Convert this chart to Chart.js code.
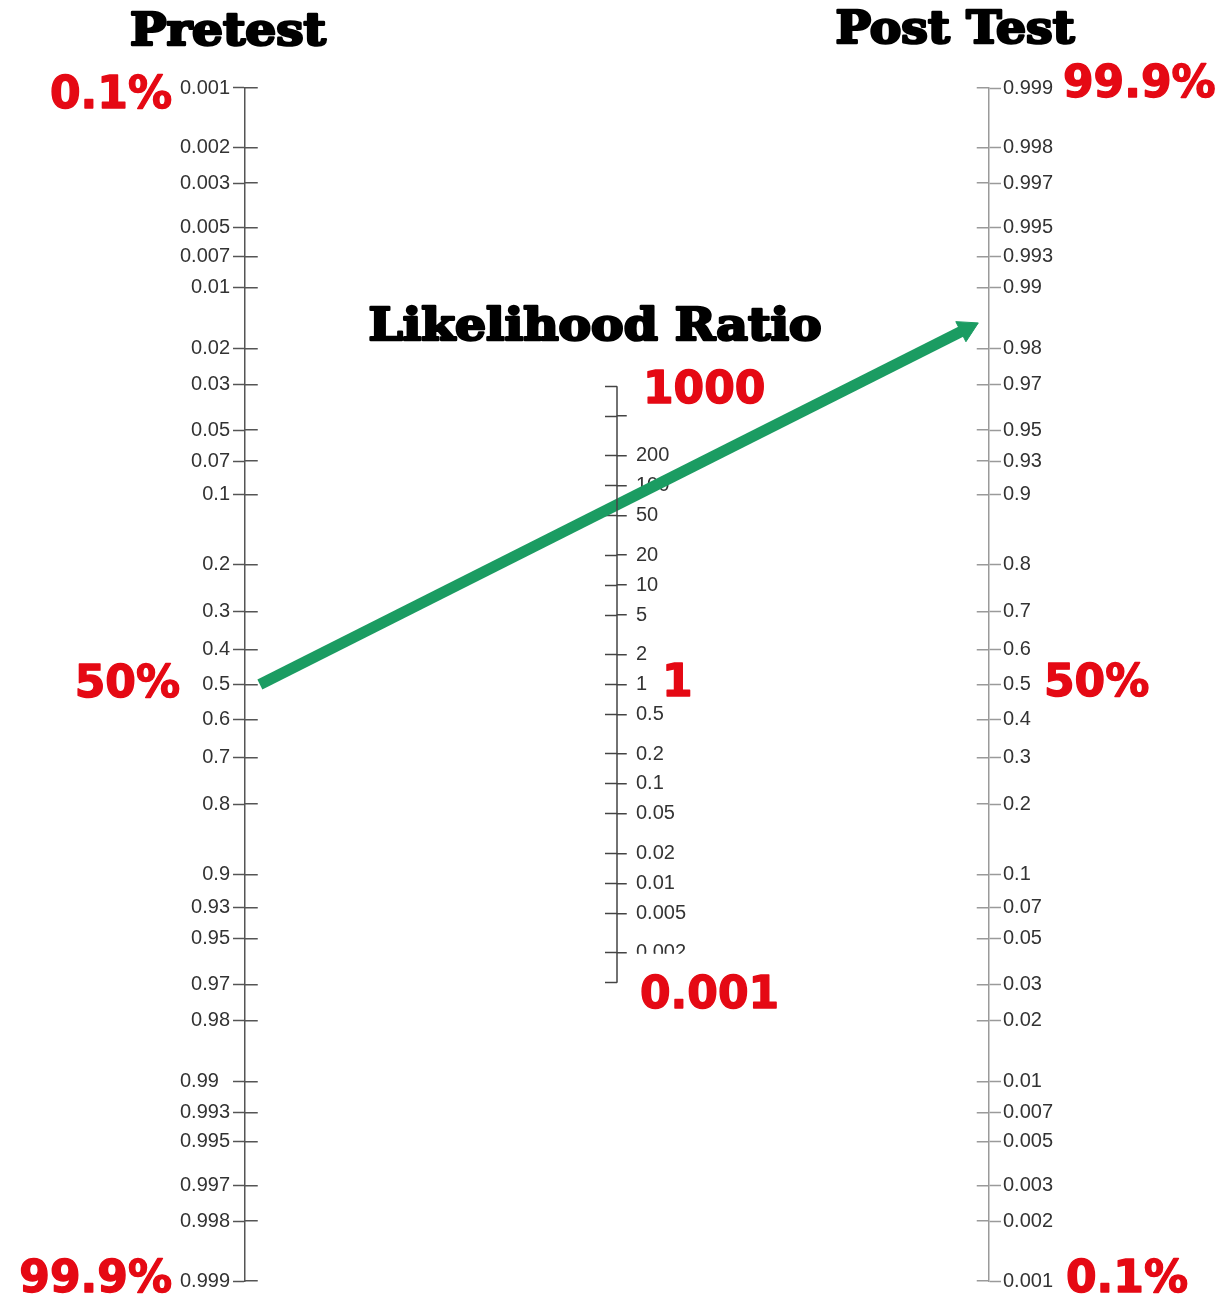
<!DOCTYPE html>
<html>
<head>
<meta charset="utf-8">
<title>Fagan nomogram</title>
<script src="https://cdn.jsdelivr.net/npm/chart.js@4/dist/chart.umd.min.js"></script>
<style>
  html, body { margin: 0; padding: 0; background: #ffffff; }
  canvas { display: block; }
</style>
</head>
<body>
<canvas id="nomogram" width="1230" height="1312"></canvas>
<script>
// ---- Scale values -------------------------------------------------------
// Pre-test probability (runs top to bottom)
const pretestTicks = [0.001, 0.002, 0.003, 0.005, 0.007, 0.01, 0.02, 0.03, 0.05, 0.07,
  0.1, 0.2, 0.3, 0.4, 0.5, 0.6, 0.7, 0.8, 0.9, 0.93, 0.95, 0.97, 0.98,
  0.99, 0.993, 0.995, 0.997, 0.998, 0.999];
const pretestLabels = ['0.001', '0.002', '0.003', '0.005', '0.007', '0.01', '0.02', '0.03', '0.05', '0.07',
  '0.1', '0.2', '0.3', '0.4', '0.5', '0.6', '0.7', '0.8', '0.9', '0.93', '0.95', '0.97', '0.98',
  '0.99  ', '0.993', '0.995', '0.997', '0.998', '0.999'];

// Likelihood ratio (log scale, 1000 at the top)
const lrTicks = [1000, 500, 200, 100, 50, 20, 10, 5, 2, 1, 0.5, 0.2, 0.1,
  0.05, 0.02, 0.01, 0.005, 0.002, 0.001];
const lrLabels = ['', '', '200', '100', '50', '20', '10', '5', '2', '1', '0.5', '0.2', '0.1',
  '0.05', '0.02', '0.01', '0.005', '0.002', ''];

// Post-test probability (runs bottom to top)
const posttestTicks = [0.999, 0.998, 0.997, 0.995, 0.993, 0.99, 0.98, 0.97, 0.95, 0.93,
  0.9, 0.8, 0.7, 0.6, 0.5, 0.4, 0.3, 0.2, 0.1, 0.07, 0.05, 0.03, 0.02,
  0.01, 0.007, 0.005, 0.003, 0.002, 0.001];
const posttestLabels = ['0.999', '0.998', '0.997', '0.995', '0.993', '0.99', '0.98', '0.97', '0.95', '0.93',
  '0.9', '0.8', '0.7', '0.6', '0.5', '0.4', '0.3', '0.2', '0.1', '0.07', '0.05', '0.03', '0.02',
  '0.01', '0.007', '0.005', '0.003', '0.002', '0.001'];

// Worked example: 50% pre-test probability carried to ~98.4% post-test
const arrowPretest = 0.5;
const arrowPosttest = 0.984;

// ---- Geometry helpers ----------------------------------------------------
const logit = p => Math.log(p / (1 - p));
const edgeLogit = logit(0.999);                 // probability axes span 0.001 .. 0.999
const lrMin = Math.exp(-2 * edgeLogit);         // LR axis sits midway, so it runs at half scale
const lrMax = Math.exp(2 * edgeLogit);

// x units: 0 = pre-test axis, 1 = LR axis, 2 = post-test axis
const arrowStartX = 0.04;
const arrowEndX = 1.94;

const tickFont = { family: '"Liberation Sans", Arial, Helvetica, sans-serif', size: 20 };
const ink = '#333333';
const green = '#1b9c62';
const red = '#e50914';
const lrEnds = i => i === 0 || i === lrTicks.length - 1;

function alignPx(v, w) { const h = w / 2; return Math.round(v - h) + h; }

// Second halves of the tick marks, so each tick crosses its axis line
const crossTicks = {
  id: 'crossTicks',
  beforeDatasetsDraw(chart) {
    const ctx = chart.ctx;
    const specs = [
      { id: 'pre', edge: s => s.right, dir: 1, len: 13, color: '#555555', skip: () => false },
      { id: 'lr', edge: s => s.right, dir: 1, len: 10, color: '#444444', skip: lrEnds },
      { id: 'post', edge: s => s.left, dir: -1, len: 12, color: '#9a9a9a', skip: () => false }
    ];
    ctx.save();
    ctx.lineWidth = 1.5;
    for (const sp of specs) {
      const s = chart.scales[sp.id];
      const x0 = alignPx(sp.edge(s), 1.5);
      ctx.strokeStyle = sp.color;
      ctx.beginPath();
      s.ticks.forEach((t, i) => {
        if (sp.skip(i)) return;
        const y = alignPx(s.getPixelForValue(t.value), 1.5);
        ctx.moveTo(x0, y);
        ctx.lineTo(x0 + sp.dir * sp.len, y);
      });
      ctx.stroke();
    }
    ctx.restore();
  }
};

// Column headings and the red percentage call-outs
const headings = [
  { text: 'Pretest', axis: 'pre', dx: -17, y: 45, width: 196 },
  { text: 'Post Test', axis: 'post', dx: -34, y: 43, width: 239 },
  { text: 'Likelihood Ratio', axis: 'lr', dx: -22, y: 340, width: 453 }
];
const callouts = [
  { text: '0.1%', axis: 'pre', value: logit(0.001), align: 'right', dx: -73, dy: 9 },
  { text: '50%', axis: 'pre', value: logit(0.5), align: 'right', dx: -65, dy: 1 },
  { text: '99.9%', axis: 'pre', value: logit(0.999), align: 'right', dx: -73, dy: 0 },
  { text: '99.9%', axis: 'post', value: logit(0.999), align: 'left', dx: 74, dy: -2 },
  { text: '50%', axis: 'post', value: logit(0.5), align: 'left', dx: 55, dy: 0 },
  { text: '0.1%', axis: 'post', value: logit(0.001), align: 'left', dx: 77, dy: 0 },
  { text: '1000', axis: 'lr', value: 1000, align: 'left', dx: 26, dy: 5 },
  { text: '1', axis: 'lr', value: 1, align: 'left', dx: 45, dy: 0 },
  { text: '0.001', axis: 'lr', value: 0.001, align: 'left', dx: 23, dy: 14, backdrop: [8, 43, 8, 20] }
];
function axisX(chart, id) {
  const s = chart.scales[id];
  return s.position === 'left' ? s.right : s.left;
}
const captions = {
  id: 'captions',
  afterDraw(chart) {
    const ctx = chart.ctx;
    ctx.save();
    // headings
    ctx.font = 'bold 44px "DejaVu Serif", serif';
    ctx.fillStyle = '#000000';
    ctx.strokeStyle = '#000000';
    ctx.lineWidth = 2.6;
    ctx.lineJoin = 'round';
    ctx.textAlign = 'center';
    ctx.textBaseline = 'alphabetic';
    for (const h of headings) {
      const w = ctx.measureText(h.text).width;
      ctx.save();
      ctx.translate(axisX(chart, h.axis) + h.dx, h.y);
      ctx.scale(h.width / w, 1);
      ctx.fillText(h.text, 0, 0);
      ctx.strokeText(h.text, 0, 0);
      ctx.restore();
    }
    // red call-outs
    ctx.font = 'bold 44px "DejaVu Sans", sans-serif';
    ctx.textBaseline = 'middle';
    for (const c of callouts) {
      const s = chart.scales[c.axis];
      const x = axisX(chart, c.axis) + c.dx;
      const y = s.getPixelForValue(c.value) + c.dy;
      const w = ctx.measureText(c.text).width;
      if (c.backdrop) {
        const [l, t, r, b] = c.backdrop;
        const left = c.align === 'left' ? x : x - w;
        ctx.fillStyle = '#ffffff';
        ctx.fillRect(left - l, y - t, w + l + r, t + b);
      }
      ctx.textAlign = c.align;
      ctx.fillStyle = red;
      ctx.strokeStyle = red;
      ctx.lineWidth = 1.4;
      ctx.fillText(c.text, x, y);
      ctx.strokeText(c.text, x, y);
    }
    ctx.restore();
  }
};

function arrowAngle(chart) {
  const xs = chart.scales.x, ys = chart.scales.pre;
  const dx = xs.getPixelForValue(arrowEndX) - xs.getPixelForValue(arrowStartX);
  const dy = ys.getPixelForValue(-logit(arrowPosttest)) - ys.getPixelForValue(logit(arrowPretest));
  return Math.atan2(dx, -dy) * 180 / Math.PI;
}

new Chart(document.getElementById('nomogram'), {
  type: 'scatter',
  data: {
    datasets: [
      {
        // LR axis line, from the top to the bottom tick
        label: 'LR axis',
        data: [{ x: 1, y: lrTicks[0] }, { x: 1, y: lrTicks[lrTicks.length - 1] }],
        yAxisID: 'lr',
        showLine: true,
        borderColor: '#444444',
        borderWidth: 1.5,
        pointRadius: 0,
        clip: false
      },
      {
        // Worked example: straight edge from pre-test through LR to post-test
        label: 'Example',
        data: [
          { x: arrowStartX, y: logit(arrowPretest) },
          { x: arrowEndX, y: -logit(arrowPosttest) }   // post-test axis mirrors the pre-test axis
        ],
        yAxisID: 'pre',
        showLine: true,
        borderColor: green,
        borderWidth: 11,
        borderCapStyle: 'butt',
        pointRadius: [0, 13],
        pointStyle: 'triangle',
        pointBackgroundColor: green,
        pointBorderColor: green,
        pointBorderWidth: 1,
        pointRotation: ctx => arrowAngle(ctx.chart),
        clip: false
      }
    ]
  },
  options: {
    responsive: false,
    animation: false,
    events: [],
    layout: { padding: { top: 88, bottom: 31, left: 0, right: 0 } },
    plugins: { legend: { display: false }, tooltip: { enabled: false } },
    scales: {
      // chart area runs from the LR axis (x = 1) to the post-test axis (x = 2)
      x: { type: 'linear', min: 1, max: 2, display: false },
      pre: {
        type: 'linear', axis: 'y', position: 'left', weight: 1, reverse: true,
        min: -edgeLogit, max: edgeLogit, bounds: 'data',
        afterBuildTicks: s => { s.ticks = pretestTicks.map(p => ({ value: logit(p) })); },
        afterFit: s => { s.width = 245; },
        ticks: { autoSkip: false, padding: 3, color: ink, font: tickFont,
          callback: (v, i) => pretestLabels[i] },
        grid: { drawOnChartArea: false, tickLength: 12, tickWidth: 1.5, tickColor: '#555555' },
        border: { color: '#555555', width: 1.5 }
      },
      lr: {
        type: 'logarithmic', axis: 'y', position: 'left', weight: 0,
        min: lrMin, max: lrMax, bounds: 'data',
        afterBuildTicks: s => { s.ticks = lrTicks.map(v => ({ value: v })); },
        afterFit: s => { s.width = 372; },
        ticks: { autoSkip: false, mirror: true, padding: 19, z: -1, color: ink, font: tickFont,
          callback: (v, i) => lrLabels[i] },
        grid: { drawOnChartArea: false, tickLength: 12, tickWidth: 1.5, tickColor: '#444444' },
        border: { display: false }
      },
      post: {
        type: 'linear', axis: 'y', position: 'right',
        min: -edgeLogit, max: edgeLogit, bounds: 'data',
        afterBuildTicks: s => { s.ticks = posttestTicks.map(p => ({ value: logit(p) })); },
        afterFit: s => { s.width = 241; },
        ticks: { autoSkip: false, padding: 2, color: ink, font: tickFont,
          callback: (v, i) => posttestLabels[i] },
        grid: { drawOnChartArea: false, tickLength: 12, tickWidth: 1.5, tickColor: '#9a9a9a' },
        border: { color: '#9a9a9a', width: 1.5 }
      }
    }
  },
  plugins: [crossTicks, captions]
});
</script>
</body>
</html>
